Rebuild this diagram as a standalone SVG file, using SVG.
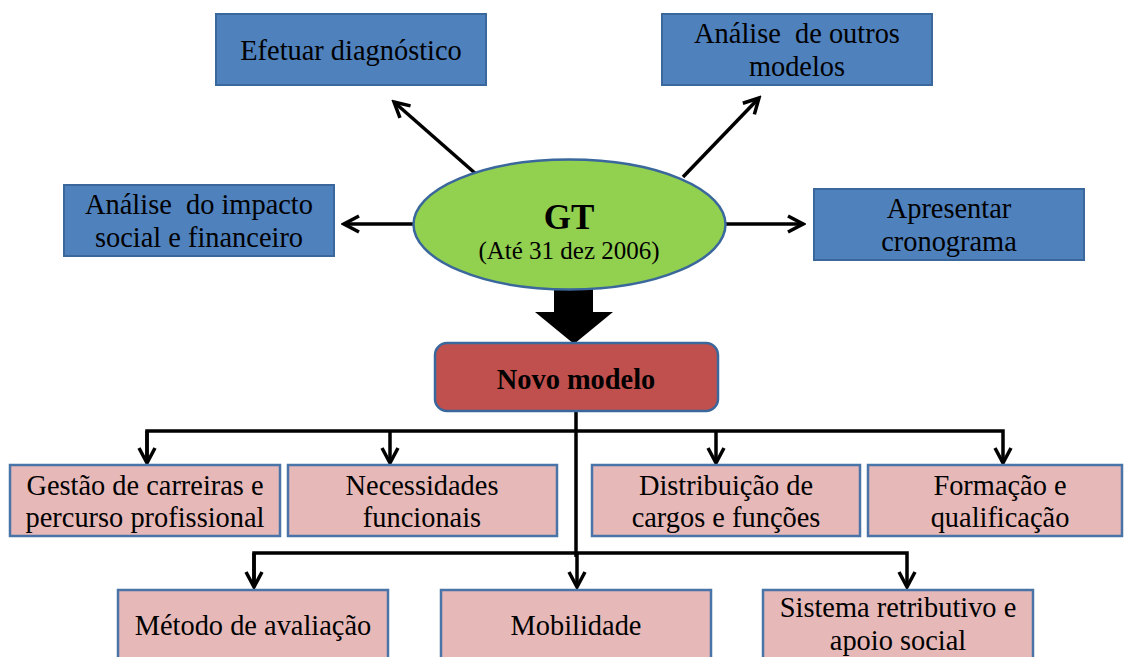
<svg xmlns="http://www.w3.org/2000/svg" width="1124" height="657" viewBox="0 0 1124 657">
<style>
.blue{fill:#4F81BD;stroke:#3A679C;stroke-width:2}
.pink{fill:#E6B9B8;stroke:#4A74A8;stroke-width:2.5}
.t{font-family:"Liberation Serif","Times New Roman",serif;font-size:28.4px;fill:#000;text-anchor:middle}
.c{fill:none;stroke:#000;stroke-width:3.5}
</style>
<defs>
<marker id="ah2" viewBox="0 0 20 20" refX="17" refY="10" markerWidth="20" markerHeight="20" markerUnits="userSpaceOnUse" orient="auto">
<path d="M2,2 L17,10 L2,18" fill="none" stroke="#000" stroke-width="3.5"/>
</marker>
</defs>
<rect width="1124" height="657" fill="#fff"/>
<g id="connectors">
<line class="c" x1="476" y1="174" x2="394" y2="102" marker-end="url(#ah2)"/>
<line class="c" x1="683" y1="177" x2="759" y2="98" marker-end="url(#ah2)"/>
<line class="c" x1="413" y1="224" x2="344" y2="224" marker-end="url(#ah2)"/>
<line class="c" x1="726" y1="224" x2="803" y2="224" marker-end="url(#ah2)"/>
<polygon points="554,280 593,280 593,312 613,312 574,344 535,312 554,312" fill="#000"/>
<path class="c" d="M576,411 V557"/>
<path class="c" d="M147,463 V431 H1003 V463" marker-end="url(#ah2)"/>
<path class="c" d="M147,431 V463" marker-end="url(#ah2)"/>
<path class="c" d="M390,431 V463" marker-end="url(#ah2)"/>
<path class="c" d="M716,431 V463" marker-end="url(#ah2)"/>
<path class="c" d="M254,587 V553 H907 V587" marker-end="url(#ah2)"/>
<path class="c" d="M254,553 V587" marker-end="url(#ah2)"/>
<path class="c" d="M577,553 V587" marker-end="url(#ah2)"/>
</g>
<g id="diag">
<rect class="blue" x="216" y="14" width="270" height="71"/>
<text class="t" x="351" y="60">Efetuar diagnóstico</text>
</g>
<g id="outros">
<rect class="blue" x="662" y="14" width="270" height="71"/>
<text class="t" x="797" y="43" xml:space="preserve">Análise  de outros</text>
<text class="t" x="797" y="76">modelos</text>
</g>
<g id="impacto">
<rect class="blue" x="64" y="185" width="270" height="71"/>
<text class="t" x="199" y="214" xml:space="preserve">Análise  do impacto</text>
<text class="t" x="199" y="247">social e financeiro</text>
</g>
<g id="crono">
<rect class="blue" x="814" y="189" width="270" height="71"/>
<text class="t" x="949" y="218">Apresentar</text>
<text class="t" x="949" y="251">cronograma</text>
</g>
<g id="gt">
<ellipse cx="569.5" cy="224.5" rx="156" ry="65" fill="#92D050" stroke="#3A679C" stroke-width="2.5"/>
<text class="t" x="569" y="229" style="font-size:35px;font-weight:bold">GT</text>
<text class="t" x="569" y="259" style="font-size:25px">(Até 31 dez 2006)</text>
</g>
<g id="novo">
<rect x="435" y="343" width="283" height="68" rx="12" fill="#C0504D" stroke="#3A679C" stroke-width="2.5"/>
<text class="t" x="576" y="389" style="font-weight:bold">Novo modelo</text>
</g>
<g id="gestao">
<rect class="pink" x="10" y="465" width="270" height="71"/>
<text class="t" x="145" y="495">Gestão de carreiras e</text>
<text class="t" x="145" y="527">percurso profissional</text>
</g>
<g id="necess">
<rect class="pink" x="288" y="465" width="269" height="71"/>
<text class="t" x="422" y="495">Necessidades</text>
<text class="t" x="422" y="527">funcionais</text>
</g>
<g id="distrib">
<rect class="pink" x="592" y="465" width="268" height="71"/>
<text class="t" x="726" y="495">Distribuição de</text>
<text class="t" x="726" y="527">cargos e funções</text>
</g>
<g id="formacao">
<rect class="pink" x="868" y="465" width="254" height="71"/>
<text class="t" x="1000" y="495">Formação e</text>
<text class="t" x="1000" y="527">qualificação</text>
</g>
<g id="metodo">
<rect class="pink" x="118" y="590" width="270" height="80"/>
<text class="t" x="253" y="635">Método de avaliação</text>
</g>
<g id="mobil">
<rect class="pink" x="441" y="590" width="270" height="80"/>
<text class="t" x="576" y="635">Mobilidade</text>
</g>
<g id="sistema">
<rect class="pink" x="763" y="590" width="270" height="80"/>
<text class="t" x="898" y="617">Sistema retributivo e</text>
<text class="t" x="898" y="650">apoio social</text>
</g>
</svg>
